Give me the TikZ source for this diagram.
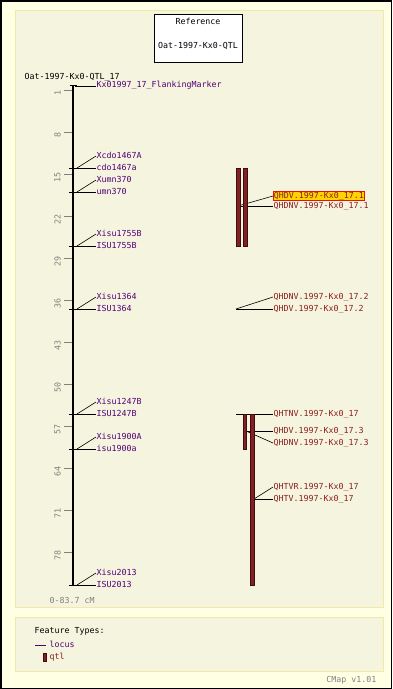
\documentclass[tikz,border=0pt]{standalone}
\usepackage{fontspec}
\newfontfamily\monofnt{DejaVu Sans Mono}
\newcommand\labfont{\monofnt\fontsize{8.3}{9}\selectfont}
\newcommand\sclfont{\monofnt\fontsize{8.3}{9}\selectfont}
\definecolor{outerbg}{RGB}{255,255,228}
\definecolor{panelbg}{RGB}{245,244,222}
\definecolor{panelbd}{RGB}{240,234,170}
\definecolor{locuscol}{RGB}{80,0,120}
\definecolor{qtlcol}{RGB}{140,30,30}
\definecolor{qtlfill}{RGB}{125,35,35}
\definecolor{qtldraw}{RGB}{70,10,10}
\definecolor{hlfill}{RGB}{255,210,0}
\definecolor{hlred}{RGB}{230,20,0}
\definecolor{scalegray}{RGB}{128,128,128}
\begin{document}
\begin{tikzpicture}[x=1pt,y=-1pt,
  txt/.style={font=\labfont, anchor=west, inner sep=0.5pt, text height=6pt, text depth=1.2pt},
  loc/.style={txt, text=locuscol},
  qlab/.style={txt, text=qtlcol},
  hl/.style={fill=hlfill, draw=hlred, line width=0.9pt},
  conn/.style={black, line width=0.6pt},
  qbar/.style={fill=qtlfill, draw=qtldraw, line width=0.5pt},
  stick/.style={scalegray, line width=0.8pt},
  slab/.style={font=\sclfont, text=scalegray, rotate=90, inner sep=0pt},
  panel/.style={fill=panelbg, draw=panelbd, line width=1pt}]
\useasboundingbox (0,0) rectangle (392,689);
\fill[outerbg] (0,0) rectangle (392,689);
\draw[black, line width=1.5pt] (0.75,0.75) rectangle (391.25,688.25);
\draw[panel] (15,10) rectangle (383,607);
\draw[panel] (15,617) rectangle (383,671);

% reference box
\node[draw=black, fill=white, line width=0.8pt, minimum width=88, minimum height=48, inner sep=0pt] (refbox) at (198,38) {};
\node[txt, anchor=center, text=black] (reft) at (198,22) {Reference};
\node[txt, anchor=center, text=black] (refm) at (198,46) {Oat-1997-Kx0-QTL};

% map title
\node[txt, text=black] (title) at (24,77) {Oat-1997-Kx0-QTL\_17};

% scale ticks
\foreach \v in {1,8,15,22,29,36,43,50,57,64,71,78}{
  \draw[stick] (64,{90+(\v-1)*6}) -- (72,{90+(\v-1)*6});
  \node[slab] (s\v) at (57.5,{93+(\v-1)*6}) {\v};
}

% chromosome
\coordinate (ctop) at (73,84.5);
\coordinate (cbot) at (73,586);
\draw[black, line width=2.6pt] (ctop) -- (cbot);
\draw[black, line width=1pt] (69.5,85) -- (76.5,85);

% flanking marker
\coordinate (pf) at (75,86);
\node[loc] (flank) at (96,85) {Kx01997\_17\_FlankingMarker};
\draw[conn] (pf) -- (flank.west |- pf);

% locus pairs
\newcommand\locpair[4]{%
  \draw[black, line width=0.8pt] (69,#1) -- (77,#1);
  \coordinate (p#4) at (77,#1);
  \node[loc] (u#4) at (96,#1-12) {#2};
  \node[loc] (l#4) at (96,#1) {#3};
  \draw[conn] (p#4) -- (u#4.west);
  \draw[conn] (p#4) -- (l#4.west);
}
\locpair{168}{Xcdo1467A}{cdo1467a}{a}
\locpair{192}{Xumn370}{umn370}{b}
\locpair{246}{Xisu1755B}{ISU1755B}{c}
\locpair{309}{Xisu1364}{ISU1364}{d}
\locpair{414}{Xisu1247B}{ISU1247B}{e}
\locpair{449}{Xisu1900A}{isu1900a}{f}
\locpair{585}{Xisu2013}{ISU2013}{g}

\node[txt, text=scalegray] (range) at (49,601) {0-83.7 cM};

% QTL 17.1
\node[qlab, hl] (q1a) at (273,196) {QHDV.1997-Kx0\_17.1};
\node[qlab] (q1b) at (273,206) {QHDNV.1997-Kx0\_17.1};
\coordinate (b1) at (238,206);
\draw[conn] (b1) -- (q1a.west);
\draw[conn] (b1) -- (q1b.west);
\draw[qbar] (236,168) rectangle (240,246);
\draw[qbar] (243,168) rectangle (247,246);

% QTL 17.2
\node[qlab] (q2a) at (273,297) {QHDNV.1997-Kx0\_17.2};
\node[qlab] (q2b) at (273,309) {QHDV.1997-Kx0\_17.2};
\coordinate (b3) at (236,309);
\draw[conn] (b3) -- (q2a.west);
\draw[conn] (b3) -- (q2b.west);

% QTL 17 group
\node[qlab] (q3) at (273,414) {QHTNV.1997-Kx0\_17};
\coordinate (b4) at (236,414);
\draw[conn] (b4) -- (q3.west);
\node[qlab] (q4a) at (273,431) {QHDV.1997-Kx0\_17.3};
\node[qlab] (q4b) at (273,443) {QHDNV.1997-Kx0\_17.3};
\coordinate (b5) at (246,431);
\draw[conn] (b5) -- (q4a.west);
\draw[conn] (b5) -- (q4b.west);
\node[qlab] (q5a) at (273,487) {QHTVR.1997-Kx0\_17};
\node[qlab] (q5b) at (273,499) {QHTV.1997-Kx0\_17};
\coordinate (b6) at (254,499);
\draw[conn] (b6) -- (q5a.west);
\draw[conn] (b6) -- (q5b.west);
\draw[qbar] (243,414) rectangle (246,449);
\draw[qbar] (250,414) rectangle (254,585);

% legend
\node[txt, text=black] (ft) at (34,631) {Feature Types:};
\coordinate (lg1) at (35,645);
\coordinate (lg2) at (46,645);
\draw[locuscol, line width=0.8pt] (lg1) -- (lg2);
\node[loc] (lglocus) at (49,645) {locus};
\draw[qbar] (43,653) rectangle (46,661);
\node[qlab] (lgqtl) at (49,657) {qtl};

\node[txt, anchor=east, text=scalegray] (ver) at (377,680) {CMap v1.01};
\end{tikzpicture}
\end{document}
